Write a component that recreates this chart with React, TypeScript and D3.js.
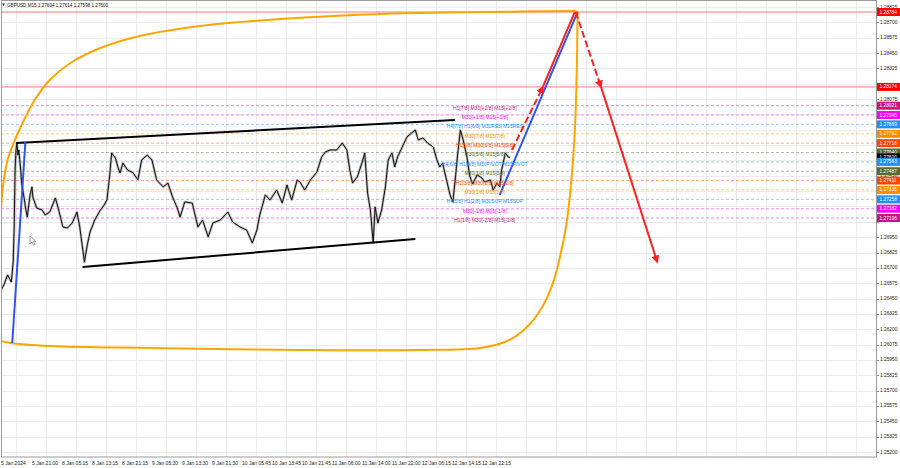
import React from 'react';
import * as d3 from 'd3';

type P = [number, number];

// M15 bar index (since first visible bar) and price
const priceSeries: P[] = [
  [0,1.26520],[3,1.26560],[7,1.26642],[11,1.26585],[13,1.26748],[14,1.27008],[15,1.27497],[16,1.27660],[17,1.27717],[18,1.27619],
  [19,1.27660],[21,1.27497],[22,1.27391],[25,1.27253],[26,1.27196],[28,1.27114],[31,1.27294],[33,1.27359],[34,1.27277],[38,1.27188],
  [44,1.27171],[47,1.27131],[52,1.27155],[58,1.27269],[61,1.27188],[66,1.27033],[71,1.27025],[76,1.27066],[81,1.27155],[84,1.27033],
  [89,1.26748],[92,1.26886],[95,1.26992],[100,1.27090],[106,1.27171],[110,1.27212],[113,1.27253],[116,1.27457],[118,1.27636],[122,1.27595],
  [125,1.27513],[127,1.27473],[130,1.27554],[135,1.27497],[141,1.27473],[146,1.27416],[150,1.27579],[156,1.27619],[161,1.27579],[166,1.27416],
  [173,1.27359],[178,1.27391],[183,1.27277],[188,1.27188],[191,1.27114],[196,1.27237],[204,1.27228],[210,1.27033],[215,1.27090],[221,1.26952],
  [226,1.27066],[234,1.27090],[242,1.27155],[247,1.27074],[255,1.27033],[262,1.27008],[268,1.26903],[273,1.27008],[276,1.27131],[282,1.27294],
  [287,1.27253],[294,1.27334],[300,1.27228],[305,1.27375],[310,1.27253],[316,1.27416],[319,1.27399],[324,1.27334],[330,1.27416],[337,1.27481],
  [342,1.27603],[346,1.27644],[351,1.27660],[358,1.27660],[364,1.27717],[369,1.27660],[372,1.27497],[375,1.27391],[380,1.27440],[385,1.27554],
  [388,1.27636],[391,1.27310],[394,1.27171],[397,1.26903],[399,1.27196],[402,1.27066],[406,1.27171],[410,1.27359],[413,1.27579],[417,1.27636],
  [420,1.27522],[423,1.27603],[428,1.27685],[433,1.27766],[438,1.27799],[442,1.27823],[445,1.27742],[450,1.27758],[455,1.27717],[461,1.27685],
  [465,1.27579],[468,1.27522],[471,1.27554],[476,1.27391],[479,1.27294],[482,1.27237],[485,1.27457],[487,1.27619],[490,1.27823],[493,1.27742],
  [497,1.27603],[500,1.27448],[503,1.27383],[508,1.27457],[513,1.27432],[516,1.27399],[522,1.27416],[525,1.27334],[529,1.27391],[532,1.27359],
  [534,1.27497],[538,1.27636],[541,1.27603],[543,1.27600]
];

const channelUpper: P[] = [[16,1.27717],[484,1.27905]];
const channelLower: P[] = [[87,1.26707],[442,1.26935]];
const impulseLine: P[] = [[12,1.26088],[26,1.27725]];
const forecastBlue: P[] = [[532,1.27294],[615,1.28784]];
const forecastRedUpDashed: P[] = [[545,1.27660],[578,1.28174]];
const forecastRedUpSolid: P[] = [[578,1.28174],[612,1.28784]];
const forecastRedDownDashed: P[] = [[613,1.28784],[640,1.28174]];
const forecastRedDownSolid: P[] = [[640,1.28174],[700,1.26748]];

const envelopeTop: P[] = [
  [-3,1.26438],[-1,1.27049],[2,1.27359],[7,1.27579],[15,1.27742],[23,1.27880],[36,1.28067],[52,1.28230],
  [74,1.28369],[106,1.28491],[148,1.28589],[212,1.28670],[298,1.28727],[404,1.28768],[511,1.28784],[614,1.28792]
];
const envelopeBottom: P[] = [
  [-4,1.26112],[10,1.26088],[52,1.26063],[159,1.26047],[319,1.26031],[447,1.26031],[511,1.26047],[540,1.26104],
  [560,1.26210],[576,1.26365],[588,1.26560],[596,1.26780],[603,1.27050],[608,1.27380],[612,1.27800],[614,1.28250],
  [615,1.28792]
];

const targetPrices = [1.28784, 1.28174];

const levelPrices = [1.28021, 1.27945, 1.27869, 1.27792, 1.27716, 1.27640, 1.27563, 1.27487, 1.27411, 1.27335, 1.27258, 1.27182, 1.27106];
const levelLabels = [
  'H1[7/8] M30[+2/8] M15[+2/8]',
  'M30[+1/8] M15[+1/8]',
  'H4[7/8] H1[6/8] M30RES M15RES',
  'M30[7/8] M15[7/8]',
  'H1[5/8] M30[6/8] M15[6/8]',
  'M30[5/8] M15[5/8]',
  'H4[6/8] H1[4/8] M30PIVOT M15PIVOT',
  'M30[3/8] M15[3/8]',
  'H1[3/8] M30[2/8] M15[2/8]',
  'M30[1/8] M15[1/8]',
  'H4[5/8] H1[2/8] M30SUP M15SUP',
  'M30[-1/8] M15[-1/8]',
  'H1[1/8] M30[-2/8] M15[-2/8]'
];
const levelColors = ['#c71585','#ff00ff','#1e90ff','#ff8c00','#ff4500','#556b2f','#1e90ff','#556b2f','#ff4500','#ff8c00','#1e90ff','#ff00ff','#c71585'];

const currentPrice = 1.27600;
const quoteTitle = 'GBPUSD,M15  1.27604 1.27614 1.27598 1.27600';

const priceTicks = [
  1.28825,1.28700,1.28575,1.28450,1.28325,1.28200,1.28075,1.27950,1.27825,1.27700,
  1.27575,1.27450,1.27325,1.27200,1.27075,1.26950,1.26825,1.26700,1.26575,1.26450,
  1.26325,1.26200,1.26075,1.25950,1.25825,1.25700,1.25575,1.25450,1.25325,1.25200
];
const timeLabels = [
  '5 Jan 2024','5 Jan 21:00','8 Jan 05:15','8 Jan 13:15','8 Jan 21:15','9 Jan 05:30','9 Jan 13:30','9 Jan 21:30',
  '10 Jan 05:45','10 Jan 13:45','10 Jan 21:45','11 Jan 06:00','11 Jan 14:00','11 Jan 22:00','12 Jan 06:15','12 Jan 14:15','12 Jan 22:15'
];
const barsPerLabel = 32;

const W = 900, H = 468;
const L = 1, R = 876, T = 1, B = 457;
const FONT = '"Liberation Sans", Arial, sans-serif';

export default function App() {
  const x = d3.scaleLinear().domain([0, barsPerLabel]).range([1, 31]);
  const y = d3.scaleLinear().domain([1.252, 1.28825]).range([452, 7]);
  const line = d3.line<P>().x(d => x(d[0])).y(d => y(d[1]));
  const smooth = d3.line<P>().x(d => x(d[0])).y(d => y(d[1])).curve(d3.curveCatmullRom.alpha(0.5));

  const gridXs = d3.range(16, R, 30);

  type Box = { price: number; color: string; text: string };
  const boxes: Box[] = [];
  targetPrices.forEach(p => boxes.push({ price: p, color: '#ff0000', text: p.toFixed(5) }));
  levelPrices.forEach((p, i) => {
    boxes.push({ price: p, color: levelColors[i], text: p.toFixed(5) });
    if (i === 5) boxes.push({ price: currentPrice, color: '#000000', text: currentPrice.toFixed(5) });
  });
  const boxYs = boxes.map(b => y(b.price));
  const visibleTicks = priceTicks.filter(p => boxYs.every(by => Math.abs(by - y(p)) > 4.5));

  return (
    <svg width={W} height={H} style={{ position: 'absolute', left: 0, top: 0, background: '#fff' }} fontFamily={FONT}>
      <defs>
        <clipPath id="plot"><rect x={L} y={T} width={R - L} height={B - T} /></clipPath>
        <marker id="arrRed" viewBox="0 0 10 10" refX="8" refY="5" markerWidth="4" markerHeight="4" orient="auto">
          <path d="M0,0 L10,5 L0,10 z" fill="#ff2020" />
        </marker>
      </defs>
      <rect x={0} y={0} width={W} height={H} fill="#fff" />

      {/* grid */}
      <g stroke="#ececec" strokeWidth={1}>
        {gridXs.map(gx => <line key={'gx' + gx} x1={gx + 0.5} x2={gx + 0.5} y1={T} y2={B} />)}
        {priceTicks.map(p => <line key={'gy' + p} x1={L} x2={R} y1={Math.round(y(p)) + 0.5} y2={Math.round(y(p)) + 0.5} />)}
      </g>

      <g clipPath="url(#plot)">
        {targetPrices.map(p => (
          <line key={'t' + p} x1={L} x2={R} y1={y(p)} y2={y(p)} stroke="#f47a7a" strokeWidth={1} />
        ))}
        {levelPrices.map((p, i) => (
          <line key={'l' + i} x1={L} x2={R} y1={y(p)} y2={y(p)} stroke={levelColors[i]} strokeOpacity={0.45} strokeWidth={1} strokeDasharray="3,2" />
        ))}

        <path d={smooth(envelopeTop) || ''} fill="none" stroke="#ffa500" strokeWidth={2} />
        <path d={smooth(envelopeBottom) || ''} fill="none" stroke="#ffa500" strokeWidth={2} />

        <path d={line(priceSeries) || ''} fill="none" stroke="#8c8c8c" strokeWidth={2.6} strokeOpacity={0.6} strokeLinejoin="round" />
        <path d={line(priceSeries) || ''} fill="none" stroke="#111" strokeWidth={1} strokeLinejoin="round" />

        <path d={line(channelUpper) || ''} stroke="#000" strokeWidth={2} fill="none" />
        <path d={line(channelLower) || ''} stroke="#000" strokeWidth={2} fill="none" />

        <path d={line(impulseLine) || ''} stroke="#2f55f0" strokeWidth={2} fill="none" />
        <path d={line(forecastBlue) || ''} stroke="#2f55f0" strokeWidth={2} fill="none" />
        <path d={line(forecastRedUpDashed) || ''} stroke="#ff2020" strokeWidth={2} fill="none" strokeDasharray="7,3" markerEnd="url(#arrRed)" />
        <path d={line(forecastRedUpSolid) || ''} stroke="#ff2020" strokeWidth={2} fill="none" />
        <path d={line(forecastRedDownDashed) || ''} stroke="#ff2020" strokeWidth={2} fill="none" strokeDasharray="7,3" markerEnd="url(#arrRed)" />
        <path d={line(forecastRedDownSolid) || ''} stroke="#ff2020" strokeWidth={2} fill="none" markerEnd="url(#arrRed)" />

        {levelPrices.map((p, i) => (
          <text key={'lt' + i} x={x(516)} y={y(p) + 2} fontSize={5} fill={levelColors[i]} textAnchor="middle" dominantBaseline="central">{levelLabels[i]}</text>
        ))}

        <path transform="translate(30,236)" d="M0,0 L0,8 L2,6 L3.6,9.4 L5,8.8 L3.4,5.6 L6,5.6 Z" fill="#fff" stroke="#777" strokeWidth={0.7} />
      </g>

      <rect x={L + 0.5} y={T - 0.5} width={R - L} height={B - T + 0.5} fill="none" stroke="#9a9a9a" strokeWidth={1} />

      {priceTicks.map(p => (
        <line key={'ptk' + p} x1={R} x2={R + 3} y1={Math.round(y(p)) + 0.5} y2={Math.round(y(p)) + 0.5} stroke="#9a9a9a" />
      ))}
      {visibleTicks.map(p => (
        <text key={'pt' + p} x={880} y={y(p)} fontSize={4.8} fill="#222" dominantBaseline="central">{p.toFixed(5)}</text>
      ))}
      {boxes.map((b, i) => (
        <g key={'b' + i}>
          <rect x={877} y={y(b.price) - 4} width={23} height={8} fill={b.color} />
          <text x={879.5} y={y(b.price)} fontSize={4.8} fill="#fff" dominantBaseline="central">{b.text}</text>
        </g>
      ))}

      {timeLabels.map((t, i) => (
        <text key={'tl' + i} x={x(i * barsPerLabel) + (i === 0 ? 0 : 1)} y={463} fontSize={5} fill="#222" dominantBaseline="central">{t}</text>
      ))}

      <path d="M2,3.5 L5,3.5 L3.5,6 Z" fill="#333" />
      <text x={7} y={5} fontSize={4.6} fill="#111" dominantBaseline="central">{quoteTitle}</text>
    </svg>
  );
}
